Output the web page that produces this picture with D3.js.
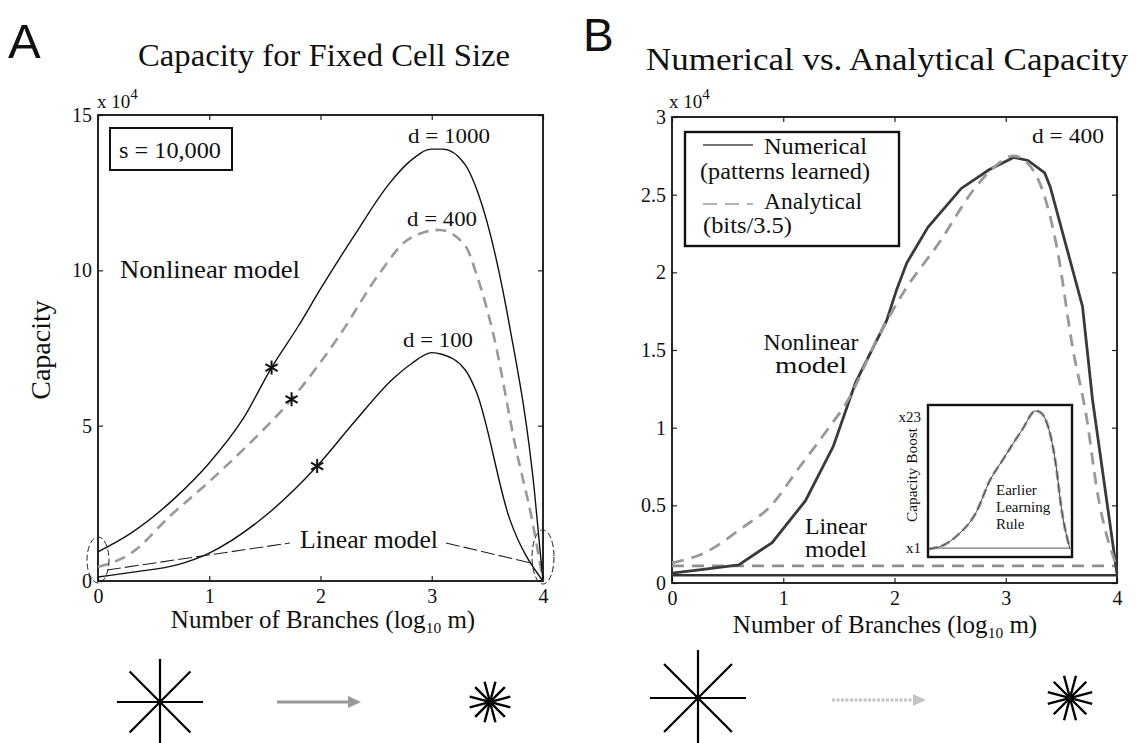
<!DOCTYPE html>
<html><head><meta charset="utf-8">
<script src="https://cdn.jsdelivr.net/npm/d3@7"></script>
<style>body{margin:0;background:#fff}</style>
</head><body><svg id="c" width="1137" height="743"></svg>
<script>
// ---------- data ----------
const xTicks = [0, 1, 2, 3, 4];
const yTicksA = [0, 5, 10, 15];
const yTicksB = [0, 0.5, 1, 1.5, 2, 2.5, 3];
// Panel A (capacity x 10^4 vs log10 m)
const d1000 = [[0,0.94],[0.3,1.55],[0.7,2.7],[1.0,3.8],[1.3,5.2],[1.56,6.87],[1.8,8.2],[2.0,9.4],[2.3,11.1],[2.62,12.8],[2.8,13.5],[3.0,13.9],[3.1,13.9],[3.3,13.4],[3.42,12.45],[3.7,8.2],[3.92,3.0],[4,0]];
const d400 = [[0,0.45],[0.3,0.9],[0.65,2.1],[1.0,3.2],[1.34,4.35],[1.74,5.85],[2.17,7.9],[2.53,9.9],[2.79,11.0],[3.07,11.3],[3.3,10.8],[3.4,9.9],[3.55,8.0],[3.76,4.2],[3.9,2.0],[4,0]];
const d100 = [[0,0.13],[0.35,0.3],[0.71,0.52],[1.0,0.9],[1.46,1.97],[1.97,3.7],[2.3,5.1],[2.65,6.5],[2.82,7.0],[3.0,7.35],[3.09,7.3],[3.3,6.8],[3.4,6.1],[3.7,2.0],[4,0]];
const starsA = [[1.56,6.87],[1.74,5.85],[1.97,3.7]];
const curveNamesA = ["d = 1000", "d = 400", "d = 100"];
// Panel B
const numerical = [[0,0.064],[0.3,0.09],[0.6,0.116],[0.9,0.26],[1.2,0.53],[1.45,0.88],[1.65,1.29],[1.93,1.69],[2.02,1.89],[2.11,2.06],[2.3,2.29],[2.6,2.54],[2.85,2.66],[3.07,2.74],[3.2,2.72],[3.35,2.64],[3.4,2.55],[3.69,1.78],[3.78,1.18],[4,0.06]];
const analytical = [[0,0.13],[0.28,0.19],[0.64,0.36],[0.88,0.49],[1.15,0.75],[1.39,0.98],[1.6,1.2],[1.81,1.52],[2.08,1.87],[2.41,2.2],[2.71,2.53],[2.9,2.68],[3.07,2.75],[3.2,2.7],[3.33,2.53],[3.46,2.16],[3.6,1.52],[3.73,1.05],[3.82,0.6],[4,0.1]];
const linearNumerical = [[0,0.05],[4,0.05]];
const linearAnalytical = [[0,0.11],[4,0.11]];
// Inset (capacity boost, x1 .. x23)
const insetBoost = [[0,1],[0.4,1.6],[0.8,3.2],[1.35,7.1],[1.72,12.1],[2.09,15.5],[2.65,20.5],[3.02,23.5],[3.15,23.3],[3.3,22.2],[3.58,15.5],[3.77,7.1],[4,1]];
const insetBaseline = [[0,1.15],[4,1.15]];

// ---------- setup ----------
const SERIF = '"Liberation Serif","Times New Roman",serif';
const SANS = '"Liberation Sans",Arial,sans-serif';
const svg = d3.select('#c');
svg.append('rect').attr('width',1137).attr('height',743).attr('fill','#fff');

const xA = d3.scaleLinear([0,4],[98,543]);
const yA = d3.scaleLinear([0,15],[581,115]);
const xB = d3.scaleLinear([0,4],[672,1117]);
const yB = d3.scaleLinear([0,3],[583,117]);
const xI = d3.scaleLinear([0,4],[929,1070]);
const yI = d3.scaleLinear([1,23],[549,414]);

function txt(g, s, x, y, size, opts={}) {
  const t = g.append('text').attr('x',x).attr('y',y).text(s)
    .attr('font-family', opts.family || SERIF).attr('font-size',size)
    .attr('fill', '#111').attr('text-anchor', opts.anchor || 'start');
  if (opts.w) t.attr('textLength', opts.w).attr('lengthAdjust','spacingAndGlyphs');
  return t;
}

function frame(x, y, yTicks, yFmt) {
  const g = svg.append('g');
  const [x0,x1] = x.range(), [y0,y1] = y.range();
  const style = sel => { sel.select('.domain').remove();
    sel.selectAll('text').attr('font-family',SERIF).attr('font-size',20).attr('fill','#111');
    sel.selectAll('line').attr('stroke','#222').attr('stroke-width',1.2); };
  g.append('g').attr('transform',`translate(0,${y0})`)
    .call(d3.axisBottom(x).tickValues(xTicks).tickSizeInner(-5).tickSizeOuter(0).tickPadding(8).tickFormat(d3.format('d'))).call(style);
  g.append('g').attr('transform',`translate(0,${y1})`)
    .call(d3.axisTop(x).tickValues(xTicks).tickSizeInner(-5).tickSizeOuter(0).tickFormat('')).call(style);
  g.append('g').attr('transform',`translate(${x0},0)`)
    .call(d3.axisLeft(y).tickValues(yTicks).tickSizeInner(-5).tickSizeOuter(0).tickPadding(6).tickFormat(yFmt)).call(style);
  g.append('g').attr('transform',`translate(${x1},0)`)
    .call(d3.axisRight(y).tickValues(yTicks).tickSizeInner(-5).tickSizeOuter(0).tickFormat('')).call(style);
  g.append('rect').attr('x',x0).attr('y',y1).attr('width',x1-x0).attr('height',y0-y1)
    .attr('fill','none').attr('stroke','#111').attr('stroke-width',1.8);
  return g;
}

function expLabel(x, y) {
  const t = svg.append('text').attr('x',x).attr('y',y).attr('font-family',SERIF).attr('font-size',19).attr('fill','#111');
  t.append('tspan').text('x 10');
  t.append('tspan').attr('dy',-9).attr('font-size',15).text('4');
}

function xLabel(cx, y, size) {
  const t = svg.append('text').attr('x',cx).attr('y',y).attr('text-anchor','middle')
    .attr('font-family',SERIF).attr('font-size',size).attr('fill','#111');
  t.append('tspan').text('Number of Branches (log');
  t.append('tspan').attr('dy',5).attr('font-size',size*0.62).text('10');
  t.append('tspan').attr('dy',-5).text(' m)');
}

// ---------- Panel A ----------
txt(svg,'A',8,58,49,{family:SANS});
txt(svg,'Capacity for Fixed Cell Size',324,66,31,{anchor:'middle',w:372});
frame(xA,yA,yTicksA,d3.format('d'));
expLabel(97,108);
txt(svg,'Capacity',0,0,28,{anchor:'middle'}).attr('transform','translate(50,350) rotate(-90)');
xLabel(323,628,25);

const lineA = d3.line().x(d=>xA(d[0])).y(d=>yA(d[1])).curve(d3.curveMonotoneX);
svg.append('path').datum(d400).attr('d',lineA).attr('fill','none').attr('stroke','#9a9a9a').attr('stroke-width',2.6).attr('stroke-dasharray','11,7');
svg.append('path').datum(d1000).attr('d',lineA).attr('fill','none').attr('stroke','#111').attr('stroke-width',1.4);
svg.append('path').datum(d100).attr('d',lineA).attr('fill','none').attr('stroke','#111').attr('stroke-width',1.4);

// asterisk markers
starsA.forEach(([a,b])=>{
  const cx=xA(a), cy=yA(b), r=7;
  [90,30,150].forEach(ang=>{
    const rad=ang*Math.PI/180;
    svg.append('line').attr('x1',cx-r*Math.cos(rad)).attr('y1',cy-r*Math.sin(rad))
      .attr('x2',cx+r*Math.cos(rad)).attr('y2',cy+r*Math.sin(rad)).attr('stroke','#111').attr('stroke-width',2);
  });
});
txt(svg,curveNamesA[0],449,143,22,{anchor:'middle',w:82});
txt(svg,curveNamesA[1],442,226,22,{anchor:'middle',w:70});
txt(svg,curveNamesA[2],438,347,22,{anchor:'middle',w:70});

// s = 10,000 box
svg.append('rect').attr('x',110).attr('y',128).attr('width',122).attr('height',42).attr('fill','none').attr('stroke','#111').attr('stroke-width',2);
txt(svg,'s = 10,000',170,158,24,{anchor:'middle',w:102});
txt(svg,'Nonlinear model',120,278,25,{w:180});
txt(svg,'Linear model',300,548,25,{w:138});
// ellipses + leader lines
svg.append('ellipse').attr('cx',xA(0)).attr('cy',560).attr('rx',11).attr('ry',23).attr('fill','none').attr('stroke','#222').attr('stroke-width',1).attr('stroke-dasharray','6,3');
svg.append('ellipse').attr('cx',xA(4)).attr('cy',557).attr('rx',11).attr('ry',27).attr('fill','none').attr('stroke','#222').attr('stroke-width',1).attr('stroke-dasharray','6,3');
svg.append('line').attr('x1',107).attr('y1',570).attr('x2',290).attr('y2',543).attr('stroke','#222').attr('stroke-width',1.1).attr('stroke-dasharray','14,4');
svg.append('line').attr('x1',446).attr('y1',543).attr('x2',531).attr('y2',563).attr('stroke','#222').attr('stroke-width',1.1).attr('stroke-dasharray','14,4');

// ---------- Panel B ----------
txt(svg,'B',583,51,46,{family:SANS});
txt(svg,'Numerical vs. Analytical Capacity',887,70,32,{anchor:'middle',w:482});
frame(xB,yB,yTicksB,d=>d===0?'0':d3.format('.1~f')(d));
expLabel(669,108);
xLabel(885,633,25);

const lineB = d3.line().x(d=>xB(d[0])).y(d=>yB(d[1]));
const lineBs = d3.line().x(d=>xB(d[0])).y(d=>yB(d[1])).curve(d3.curveMonotoneX);
svg.append('path').datum(linearAnalytical).attr('d',lineB).attr('fill','none').attr('stroke','#8f8f8f').attr('stroke-width',2.6).attr('stroke-dasharray','12,8');
svg.append('path').datum(linearNumerical).attr('d',lineB).attr('fill','none').attr('stroke','#333').attr('stroke-width',2.6);
svg.append('path').datum(numerical).attr('d',lineB).attr('fill','none').attr('stroke','#3a3a3a').attr('stroke-width',2.8);
svg.append('path').datum(analytical).attr('d',lineBs).attr('fill','none').attr('stroke','#999').attr('stroke-width',2.8).attr('stroke-dasharray','12,8');

txt(svg,'d = 400',1068,143,21,{anchor:'middle',w:72});
// legend
svg.append('rect').attr('x',685).attr('y',132).attr('width',214).attr('height',114).attr('fill','#fff').attr('stroke','#111').attr('stroke-width',2.4);
svg.append('line').attr('x1',703).attr('x2',753).attr('y1',145).attr('y2',145).attr('stroke','#444').attr('stroke-width',1.3);
svg.append('line').attr('x1',703).attr('x2',753).attr('y1',204).attr('y2',204).attr('stroke','#999').attr('stroke-width',1.5).attr('stroke-dasharray','14,8');
txt(svg,'Numerical',764,154,23,{w:103});
txt(svg,'(patterns learned)',700,179,23,{w:170});
txt(svg,'Analytical',764,209,23,{w:98});
txt(svg,'(bits/3.5)',703,233,23,{w:89});
// text annotations
txt(svg,'Nonlinear',811,350,23,{anchor:'middle',w:95});
txt(svg,'model',811,373,23,{anchor:'middle',w:72});
txt(svg,'Linear',836,534,23,{anchor:'middle',w:62});
txt(svg,'model',836,557,23,{anchor:'middle',w:62});

// inset
svg.append('rect').attr('x',928).attr('y',405).attr('width',144).attr('height',152).attr('fill','#fff').attr('stroke','#111').attr('stroke-width',2.4);
const lineI = d3.line().x(d=>xI(d[0])).y(d=>yI(d[1])).curve(d3.curveMonotoneX);
svg.append('path').datum(insetBaseline).attr('d',lineI).attr('fill','none').attr('stroke','#777').attr('stroke-width',1.3);
svg.append('path').datum(insetBoost).attr('d',lineI).attr('fill','none').attr('stroke','#a0a0a0').attr('stroke-width',3).attr('stroke-dasharray','9,4');
svg.append('path').datum(insetBoost).attr('d',lineI).attr('fill','none').attr('stroke','#444').attr('stroke-width',1);
txt(svg,'x23',921,422,15,{anchor:'end'});
txt(svg,'x1',921,553,15,{anchor:'end'});
txt(svg,'Capacity Boost',0,0,14,{anchor:'middle',w:94}).attr('transform','translate(917,475) rotate(-90)');
txt(svg,'Earlier',996,495,15);
txt(svg,'Learning',996,512,15);
txt(svg,'Rule',996,529,15);

// ---------- bottom icons ----------
function star(cx, cy, r, n, a0, sw) {
  for (let i=0;i<n;i++){
    const a=(a0+i*180/n)*Math.PI/180;
    svg.append('line').attr('x1',cx-r*Math.cos(a)).attr('y1',cy-r*Math.sin(a))
      .attr('x2',cx+r*Math.cos(a)).attr('y2',cy+r*Math.sin(a)).attr('stroke','#000').attr('stroke-width',sw);
  }
  svg.append('circle').attr('cx',cx).attr('cy',cy).attr('r',sw*1.2).attr('fill','#000');
}
function arrow(x0, x1, y, col, dash) {
  svg.append('line').attr('x1',x0).attr('x2',x1-10).attr('y1',y).attr('y2',y).attr('stroke',col).attr('stroke-width',3).attr('stroke-dasharray',dash);
  svg.append('path').attr('d',`M${x1-13},${y-6}L${x1},${y}L${x1-13},${y+6}Z`).attr('fill',col);
}
star(160,702,43,4,0,2.2);
arrow(277,361,702,'#999','none');
star(490,702,21,6,15,2.4);
star(698,698,48,4,0,2.2);
arrow(832,926,700,'#c4c4c4','3,1.5');
star(1070,698,23,6,15,2.4);
</script></body></html>
